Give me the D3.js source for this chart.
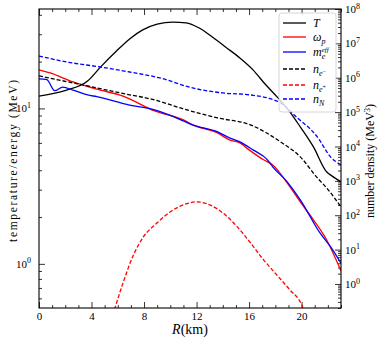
<!DOCTYPE html>
<html>
<head>
<meta charset="utf-8">
<script src="https://cdn.jsdelivr.net/npm/d3@7"></script>
<style>
  body { margin: 0; background: #fff; }
  text { font-family: "Liberation Serif", "DejaVu Serif", serif; fill: #000; }
</style>
</head>
<body>
<div id="chart"></div>
<script>
// R (km) grids and values
const R_T   = [0, 2.1, 3.7, 4.7, 5.9, 6.9, 7.9, 9.0, 10.2, 11.2, 12.2, 13.2, 14.3, 15.3, 16.3, 17.2, 18.2, 19.1, 19.9, 20.9, 21.9, 22.3, 23];
const T     = [12.0, 13.1, 15.0, 18.5, 23.4, 28.0, 32.0, 34.9, 35.9, 35.5, 32.9, 28.8, 24.5, 21.1, 17.7, 14.4, 11.7, 9.5, 7.6, 5.65, 3.91, 3.68, 3.37];

const R_wp  = [0, 0.84, 2.6, 4.4, 6.4, 8.8, 11.0, 11.7, 13.6, 14.5, 15.3, 16.0, 17.1, 17.8, 18.9, 19.9, 20.9, 21.9, 23];
const wp    = [17.7, 16.9, 14.8, 13.3, 12.0, 9.64, 8.43, 7.83, 6.96, 6.27, 6.0, 5.41, 4.67, 4.33, 3.32, 2.50, 1.92, 1.43, 0.90];

const R_me  = [0, 0.6, 1.2, 1.8, 2.6, 3.7, 4.4, 6.9, 8.8, 11.0, 11.7, 13.6, 14.5, 15.3, 16.3, 17.4, 17.8, 18.9, 19.9, 21.4, 22.2, 23];
const me    = [15.5, 15.3, 13.0, 13.7, 13.1, 12.2, 11.9, 10.5, 9.78, 8.31, 7.83, 7.06, 6.46, 6.09, 5.41, 4.67, 4.21, 3.37, 2.58, 1.58, 1.29, 1.01];

const R_ne  = [0, 2.6, 3.7, 6.2, 8.8, 11.0, 13.6, 16.1, 18.4, 19.9, 21.2, 21.9, 23];
const neMinus = [1.13e6, 7.06e5, 5.78e5, 3.61e5, 2.26e5, 1.24e5, 6.78e4, 4.25e4, 1.36e4, 4.99e3, 1.22e3, 627, 175];

const R_pos = [5.75, 6.4, 7.2, 7.9, 9.0, 10.0, 11.0, 12.0, 13.0, 14.0, 15.1, 16.1, 17.1, 18.1, 19.1, 20.0, 20.1];
const nePlus = [0.18, 1.08, 7.06, 22.0, 60.1, 126, 201, 245, 201, 117, 46.0, 15.8, 5.05, 1.85, 0.678, 0.248, 0.2];

const R_N   = [0, 2.1, 4.65, 6.9, 9.2, 11.7, 14.0, 16.1, 17.4, 18.4, 19.6, 21.2, 22.2, 23];
const nN    = [4.30e6, 2.88e6, 2.06e6, 1.47e6, 9.87e5, 5.05e5, 3.61e5, 3.16e5, 2.59e5, 1.85e5, 7.24e4, 1.90e4, 4.99e3, 2.92e3];

const xMajor = [0, 4, 8, 12, 16, 20];
const leftMajor = [1, 10];
const rightMajor = d3.range(0, 9).map(k => Math.pow(10, k));

const width = 382, height = 343;
const m = { top: 9, right: 41, bottom: 35, left: 39 };
const iw = width - m.left - m.right, ih = height - m.top - m.bottom;

const svg = d3.select('#chart').append('svg')
  .attr('width', width).attr('height', height);

const x = d3.scaleLinear().domain([0, 23]).range([m.left, m.left + iw]);
const yL = d3.scaleLog().domain([0.52, 43.6]).range([m.top + ih, m.top]);
const yR = d3.scaleLog().domain([0.2, 1e8]).range([m.top + ih, m.top]);

svg.append('clipPath').attr('id', 'clip')
  .append('rect').attr('x', m.left).attr('y', m.top).attr('width', iw).attr('height', ih);

function minorLog (lo, hi) {
  const out = [];
  for (let k = -2; k <= 9; k++) {
    for (let j = 2; j <= 9; j++) {
      const v = j * Math.pow(10, k);
      if (v >= lo && v <= hi) out.push(v);
    }
  }
  return out;
}

function styleAxis (g) {
  g.select('.domain').remove();
  g.selectAll('.tick line').attr('stroke', '#000').attr('stroke-width', 0.8);
}

const xMinor = d3.range(0, 24).filter(v => v % 4 !== 0);

// bottom
svg.append('g').attr('transform', `translate(0,${m.top + ih})`)
  .call(d3.axisBottom(x).tickValues(xMajor).tickSize(-6).tickPadding(4).tickFormat(d3.format('d')))
  .call(styleAxis)
  .call(g => g.selectAll('text').attr('font-size', 11).attr('font-family', '"Liberation Serif", serif'));
svg.append('g').attr('transform', `translate(0,${m.top + ih})`)
  .call(d3.axisBottom(x).tickValues(xMinor).tickSize(-3).tickFormat(''))
  .call(styleAxis);
// top
svg.append('g').attr('transform', `translate(0,${m.top})`)
  .call(d3.axisTop(x).tickValues(xMajor).tickSize(-6).tickFormat(''))
  .call(styleAxis);
svg.append('g').attr('transform', `translate(0,${m.top})`)
  .call(d3.axisTop(x).tickValues(xMinor).tickSize(-3).tickFormat(''))
  .call(styleAxis);

function powLabel (sel, anchor) {
  sel.each(function (d) {
    const t = d3.select(this).text(null).attr('text-anchor', anchor).attr('font-size', 11)
      .attr('font-family', '"Liberation Serif", serif');
    t.append('tspan').text('10');
    t.append('tspan').attr('dy', -4.5).attr('font-size', 8).text(Math.round(Math.log10(d)));
  });
}

// left
svg.append('g').attr('transform', `translate(${m.left},0)`)
  .call(d3.axisLeft(yL).tickValues(leftMajor).tickSize(-6).tickPadding(8))
  .call(styleAxis)
  .call(g => g.selectAll('text').call(powLabel, 'end'));
svg.append('g').attr('transform', `translate(${m.left},0)`)
  .call(d3.axisLeft(yL).tickValues(minorLog(0.52, 43.6)).tickSize(-3).tickFormat(''))
  .call(styleAxis);
// right
svg.append('g').attr('transform', `translate(${m.left + iw},0)`)
  .call(d3.axisRight(yR).tickValues(rightMajor).tickSize(-6).tickPadding(4))
  .call(styleAxis)
  .call(g => g.selectAll('text').call(powLabel, 'start'));
svg.append('g').attr('transform', `translate(${m.left + iw},0)`)
  .call(d3.axisRight(yR).tickValues(minorLog(0.2, 1e8)).tickSize(-3).tickFormat(''))
  .call(styleAxis);

// curves
const series = [
  { r: R_T,   v: T,       y: yL, color: '#000',    dash: null },
  { r: R_wp,  v: wp,      y: yL, color: '#ff0000', dash: null },
  { r: R_me,  v: me,      y: yL, color: '#0000ff', dash: null },
  { r: R_ne,  v: neMinus, y: yR, color: '#000',    dash: '4,2' },
  { r: R_pos, v: nePlus,  y: yR, color: '#ff0000', dash: '4,2' },
  { r: R_N,   v: nN,      y: yR, color: '#0000ff', dash: '4,2' }
];

const plot = svg.append('g').attr('clip-path', 'url(#clip)');
series.forEach(s => {
  const line = d3.line()
    .x(i => x(s.r[i]))
    .y(i => s.y(s.v[i]))
    .curve(d3.curveMonotoneX);
  plot.append('path')
    .attr('d', line(d3.range(s.r.length)))
    .attr('fill', 'none')
    .attr('stroke', s.color)
    .attr('stroke-width', 1.3)
    .attr('stroke-dasharray', s.dash);
});

// frame
svg.append('rect')
  .attr('x', m.left).attr('y', m.top).attr('width', iw).attr('height', ih)
  .attr('fill', 'none').attr('stroke', '#000').attr('stroke-width', 1.1);

// legend
const leg = svg.append('g').attr('transform', 'translate(279,13)');
leg.append('rect').attr('width', 57).attr('height', 99).attr('rx', 3)
  .attr('fill', '#fff').attr('fill-opacity', 0.8).attr('stroke', '#ccc').attr('stroke-width', 0.8);

const rowY = [10, 24, 39, 56, 72, 86];
series.forEach((s, i) => {
  leg.append('line').attr('x1', 4).attr('x2', 27).attr('y1', rowY[i]).attr('y2', rowY[i])
    .attr('stroke', s.color).attr('stroke-width', 1.3).attr('stroke-dasharray', s.dash);
});

function legText (i) {
  return leg.append('text').attr('x', 34).attr('y', rowY[i] + 4).attr('font-size', 12);
}
legText(0).append('tspan').attr('font-style', 'italic').text('T');
{
  const t = legText(1);
  t.append('tspan').attr('font-style', 'italic').text('ω');
  t.append('tspan').attr('font-style', 'italic').attr('font-size', 8).attr('dy', 2.5).text('p');
}
{
  const t = legText(2);
  t.append('tspan').attr('font-style', 'italic').text('m');
  t.append('tspan').attr('font-style', 'italic').attr('font-size', 8).attr('dy', 3).text('e');
  t.append('tspan').attr('font-style', 'italic').attr('font-size', 7).attr('dx', -3.5).attr('dy', -7.5).text('eff');
}
[['−', 3], ['+', 4]].forEach(([sgn, i]) => {
  const t = legText(i);
  t.append('tspan').attr('font-style', 'italic').text('n');
  t.append('tspan').attr('font-style', 'italic').attr('font-size', 8).attr('dy', 3).text('e');
  t.append('tspan').attr('font-size', 6).attr('dy', -3).text(sgn);
});
{
  const t = legText(5);
  t.append('tspan').attr('font-style', 'italic').text('n');
  t.append('tspan').attr('font-style', 'italic').attr('font-size', 8).attr('dy', 3).text('N');
}

// axis titles
svg.append('text')
  .attr('transform', `translate(17,161) rotate(-90)`)
  .attr('text-anchor', 'middle').attr('font-size', 11.5)
  .attr('textLength', 162).attr('lengthAdjust', 'spacing')
  .text('temperature/energy (MeV)');

const rt = svg.append('text')
  .attr('transform', `translate(374,161) rotate(-90)`)
  .attr('text-anchor', 'middle').attr('font-size', 12);
rt.append('tspan').text('number density (MeV');
rt.append('tspan').attr('font-size', 8.5).attr('dy', -4.5).text('3');
rt.append('tspan').attr('dy', 4.5).text(')');

const xt = svg.append('text')
  .attr('x', x(11.5)).attr('y', 334)
  .attr('text-anchor', 'middle').attr('font-size', 14);
xt.append('tspan').attr('font-style', 'italic').text('R');
xt.append('tspan').text('(km)');
</script>
</body>
</html>
